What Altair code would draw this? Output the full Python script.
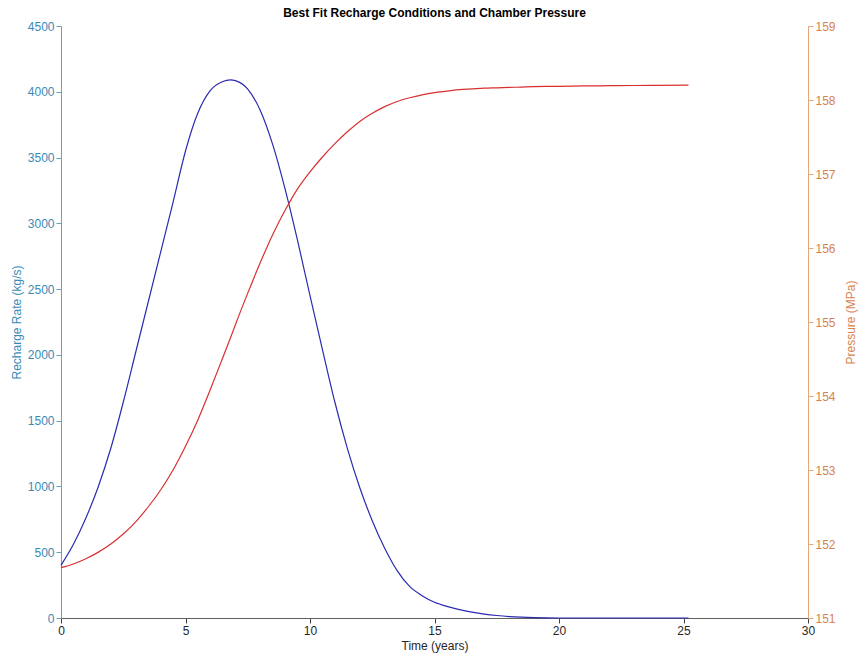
import altair as alt
import pandas as pd

# Time (years)
time = [0, 0.5, 1, 1.5, 2, 2.5, 3, 3.5, 4, 4.5, 5, 5.5, 6, 6.5, 6.8, 7, 7.5, 8, 8.5,
        9, 9.5, 10, 10.5, 11, 11.5, 12, 12.5, 13, 13.5, 14, 14.5, 15, 15.5, 16,
        16.5, 17, 17.5, 18, 18.5, 19, 19.5, 20, 21, 22, 23, 24, 25.2]

# Recharge rate (kg/s)
recharge = [400, 560, 760, 1000, 1290, 1640, 2020, 2400, 2780, 3160, 3550, 3840,
            4010, 4078, 4090, 4085, 4020, 3860, 3600, 3260, 2870, 2450, 2040,
            1640, 1290, 990, 740, 530, 360, 240, 170, 120, 88, 64, 45, 30, 19,
            11, 6, 3, 1, 0, 0, 0, 0, 0, 0]

# Chamber pressure (MPa)
pressure = [151.68, 151.73, 151.80, 151.89, 152.00, 152.135, 152.30, 152.50, 152.73,
            153.00, 153.32, 153.68, 154.09, 154.52, 154.78, 154.96, 155.39, 155.80,
            156.18, 156.51, 156.80, 157.03, 157.23, 157.41, 157.57, 157.71, 157.82,
            157.91, 157.98, 158.03, 158.07, 158.10, 158.12, 158.14, 158.15, 158.16,
            158.165, 158.17, 158.175, 158.18, 158.183, 158.185, 158.19, 158.193,
            158.196, 158.198, 158.2]

df = pd.DataFrame({"t": time, "rate": recharge, "p": pressure})

FONT = "Liberation Sans"
LEFT_TXT = "#3a8ab5"
LEFT_LINE = "#6a9fb8"
RIGHT_TXT = "#d6834f"
RIGHT_LINE = "#e3a47f"

x = alt.X("t:Q", title="Time (years)",
          scale=alt.Scale(domain=[0, 30], nice=False, zero=False),
          axis=alt.Axis(values=[0, 5, 10, 15, 20, 25, 30], grid=False, format="d",
                        labelFlush=False,
                        domainColor="#606060", tickColor="#404040",
                        labelColor="#262626", titleColor="#262626",
                        labelFontSize=12, titleFontSize=12, titleFontWeight="normal",
                        labelFont=FONT, titleFont=FONT, titlePadding=4))

blue = alt.Chart(df).mark_line(color="#2b2bb0", strokeWidth=1.2,
                                interpolate="monotone").encode(
    x=x,
    y=alt.Y("rate:Q", title="Recharge Rate (kg/s)",
            scale=alt.Scale(domain=[0, 4500], nice=False),
            axis=alt.Axis(values=list(range(0, 4501, 500)), grid=False, orient="left",
                          format="d", labelFlush=False,
                          domainColor=LEFT_LINE, tickColor=LEFT_LINE,
                          labelColor=LEFT_TXT, titleColor=LEFT_TXT,
                          labelFontSize=12, titleFontSize=12, titleFontWeight="normal",
                          labelFont=FONT, titleFont=FONT, titlePadding=4)),
)

red = alt.Chart(df).mark_line(color="#d83030", strokeWidth=1.2,
                               interpolate="monotone").encode(
    x=x,
    y=alt.Y("p:Q", title="Pressure (MPa)",
            scale=alt.Scale(domain=[151, 159], nice=False, zero=False),
            axis=alt.Axis(values=list(range(151, 160)), grid=False, orient="right",
                          format="d", labelFlush=False,
                          domainColor=RIGHT_LINE, tickColor=RIGHT_LINE,
                          labelColor=RIGHT_TXT, titleColor=RIGHT_TXT,
                          labelFontSize=12, titleFontSize=12, titleFontWeight="normal",
                          labelFont=FONT, titleFont=FONT,
                          titleAngle=270, titleX=42, titleY=296,
                          titleAlign="center", titleBaseline="middle")),
)

chart = alt.layer(blue, red).resolve_scale(y="independent").properties(
    width=747, height=592,
    title=alt.TitleParams("Best Fit Recharge Conditions and Chamber Pressure",
                          font=FONT, fontSize=12, fontWeight="bold", color="#000000",
                          anchor="middle", offset=0),
    autosize=alt.AutoSizeParams(type="none"),
    padding={"left": 61, "top": 26, "right": 51, "bottom": 44},
    background="white",
).configure_view(stroke=None)

chart.save("out.html", embed_options={"renderer": "svg", "actions": False})
